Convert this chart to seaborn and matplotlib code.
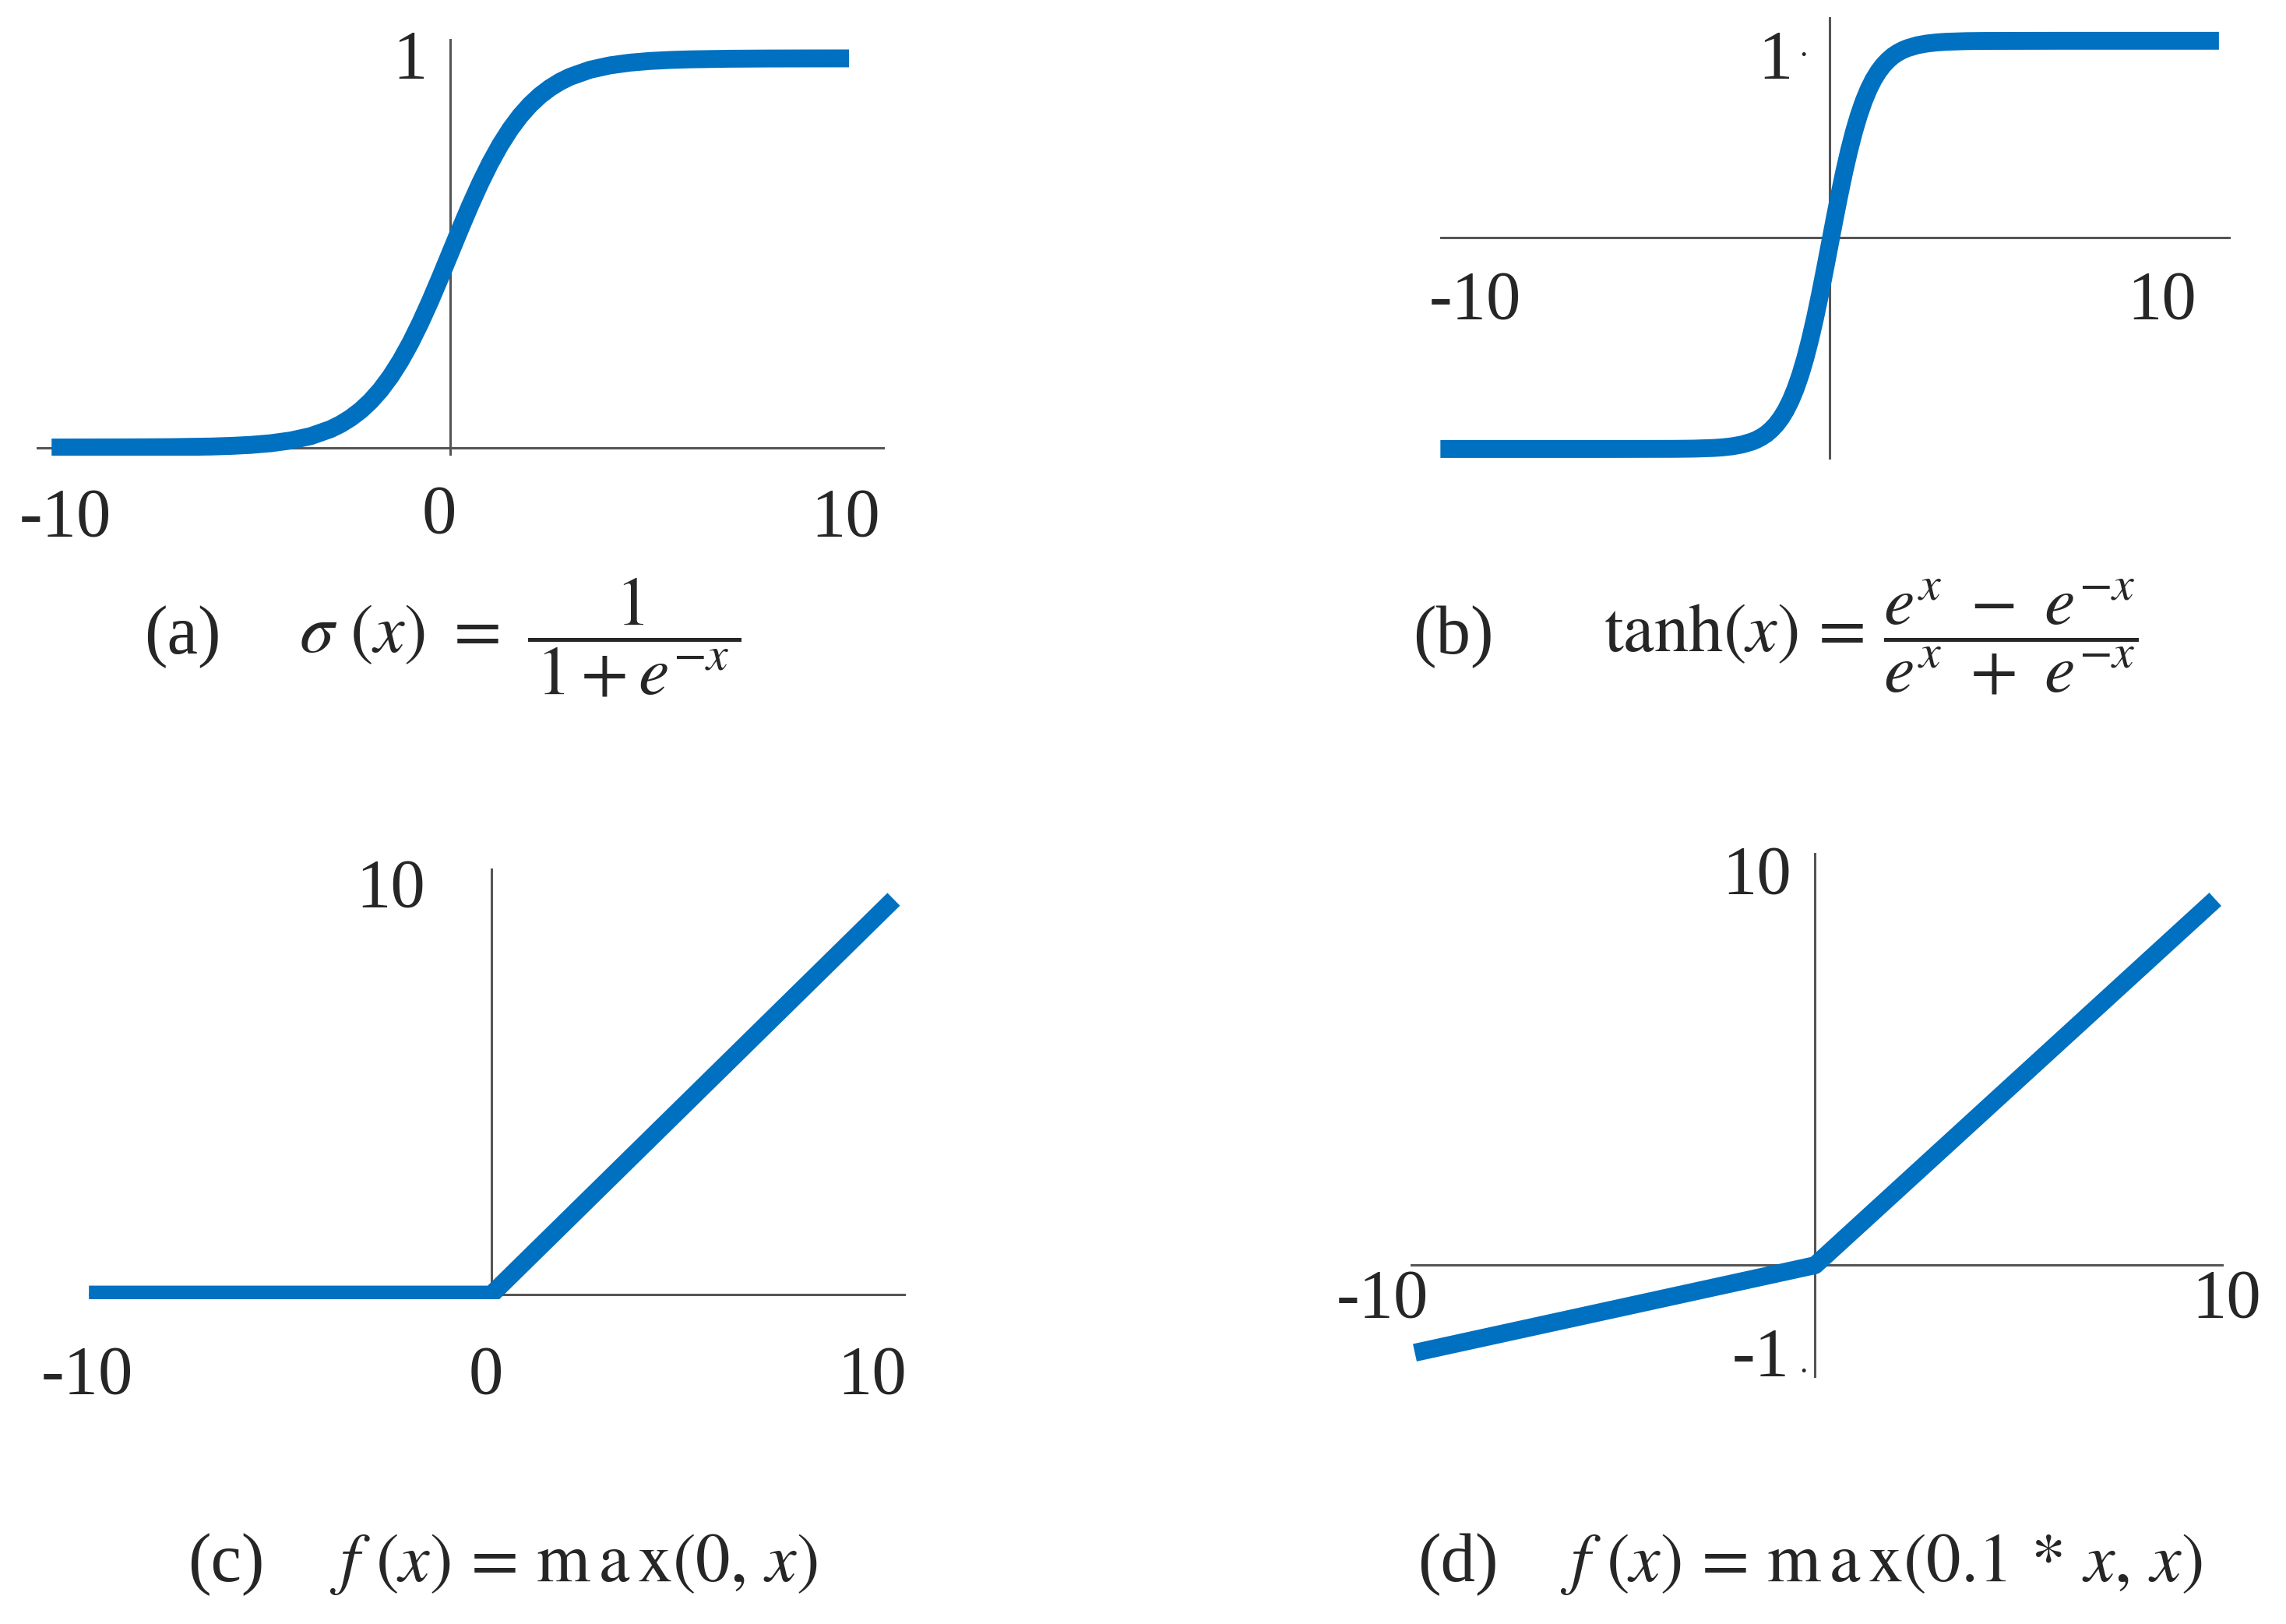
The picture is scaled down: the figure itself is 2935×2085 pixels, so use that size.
import numpy as np
import pandas as pd
import matplotlib
matplotlib.use("Agg")
import matplotlib.pyplot as plt
import seaborn as sns

# ---------------- data ----------------
sig_x = [-10, -9, -8, -7, -6, -5.5, -5, -4.5, -4, -3.5, -3, -2.75, -2.5, -2.25, -2, -1.75,
         -1.5, -1.25, -1, -0.75, -0.5, -0.25, 0, 0.25, 0.5, 0.75, 1, 1.25, 1.5, 1.75, 2,
         2.25, 2.5, 2.75, 3, 3.5, 4, 4.5, 5, 5.5, 6, 7, 8, 9, 10]
sig_y = [0.0, 0.0001, 0.0003, 0.0009, 0.0025, 0.0041, 0.0067, 0.011, 0.018, 0.0293, 0.0474,
         0.060, 0.0759, 0.0953, 0.1192, 0.148, 0.1824, 0.2227, 0.2689, 0.3208, 0.3775,
         0.4378, 0.50, 0.5622, 0.6225, 0.6792, 0.7311, 0.7773, 0.8176, 0.852, 0.8808,
         0.9047, 0.9241, 0.94, 0.9526, 0.9707, 0.982, 0.989, 0.9933, 0.9959, 0.9975,
         0.9991, 0.9997, 0.9999, 1.0]

tanh_x = [-10, -6, -4, -3.5, -3, -2.75, -2.5, -2.25, -2, -1.875, -1.75, -1.625, -1.5,
          -1.375, -1.25, -1.125, -1, -0.875, -0.75, -0.625, -0.5, -0.375, -0.25, -0.125, 0,
          0.125, 0.25, 0.375, 0.5, 0.625, 0.75, 0.875, 1, 1.125, 1.25, 1.375, 1.5, 1.625,
          1.75, 1.875, 2, 2.25, 2.5, 2.75, 3, 3.5, 4, 6, 10]
tanh_y = [-1.0, -1.0, -0.9993, -0.9982, -0.9951, -0.9919, -0.9866, -0.978, -0.964, -0.9541,
          -0.9414, -0.9257, -0.9051, -0.8799, -0.8483, -0.8094, -0.7616, -0.7039, -0.6351,
          -0.5546, -0.4621, -0.3584, -0.2449, -0.1244, 0.0, 0.1244, 0.2449, 0.3584, 0.4621,
          0.5546, 0.6351, 0.7039, 0.7616, 0.8094, 0.8483, 0.8799, 0.9051, 0.9257, 0.9414,
          0.9541, 0.964, 0.978, 0.9866, 0.9919, 0.9951, 0.9982, 0.9993, 1.0, 1.0]

relu_x = [-10, 0, 10]
relu_y = [0, 0, 10]

leaky_x = [-10, 0, 10]
leaky_y = [-1, 0, 10]

# tick labels per panel
ticks_a = ["1", "-10", "0", "10"]
ticks_b = ["1", "-10", "10"]
ticks_c = ["10", "-10", "0", "10"]
ticks_d = ["10", "-10", "-1", "10"]

panel_tags = ["(a)", "(b)", "(c)", "(d)"]
formulas = [r"$\sigma\ (x)\ =\ \dfrac{1}{\,1 + e^{-x}\,}$",
            r"$\mathrm{tanh}(x)\,=\,\dfrac{e^{x}\ -\ e^{-x}}{e^{x}\ +\ e^{-x}}$",
            r"$f\ (x)\,=\,\mathrm{m\,a\,x}(0,\,x)$",
            r"$f\ (x)\,=\,\mathrm{m\,a\,x}(0.1\,*\,x,\,x)$"]

# ---------------- style ----------------
sns.set_theme(style="white")
plt.rcParams["font.family"] = ["Liberation Serif", "DejaVu Serif"]
plt.rcParams["mathtext.fontset"] = "stix"

W, H = 1568.0, 1114.0          # layout measured in the shrunk reference
BLUE = "#0070C0"
AXC = "#555555"
LW = 16.5
TICK_FS = 64
FORM_FS = 64

fig = plt.figure(figsize=(29.35, 20.85), dpi=100)
fig.patch.set_facecolor("white")


def make_ax(l, t, r, b):
    ax = fig.add_axes([l / W, 1 - b / H, (r - l) / W, (b - t) / H])
    ax.set_axis_off()
    return ax


def ftext(x, y, s, fs=TICK_FS, **kw):
    fig.text(x / W, 1 - y / H, s, fontsize=fs, ha="center", va="center", **kw)


def draw_curve(ax, xs, ys):
    df = pd.DataFrame({"x": xs, "y": ys})
    sns.lineplot(data=df, x="x", y="y", ax=ax, color=BLUE, linewidth=LW,
                 estimator=None, sort=False, zorder=3)
    for ln in ax.get_lines():
        ln.set_solid_capstyle("butt")
        ln.set_solid_joinstyle("round")
    ax.set_axis_off()


def draw_axes(ax, y0=0):
    ax.axhline(y0, color=AXC, lw=2.2, zorder=1)
    ax.axvline(0, color=AXC, lw=2.2, zorder=1)


# ---- (a) sigmoid ----
ax_a = make_ax(25, 26.7, 607, 312.3)
draw_curve(ax_a, sig_x, sig_y)
draw_axes(ax_a)
ax_a.set_xlim(-10.38, 10.9)
ax_a.set_ylim(-0.02, 1.05)
for s, (x, y) in zip(ticks_a, [(281, 42), (45, 356), (301, 354), (580, 356)]):
    ftext(x, y, s)

# ---- (b) tanh ----
ax_b = make_ax(988, 12, 1530, 315)
draw_curve(ax_b, tanh_x, tanh_y)
draw_axes(ax_b, y0=0.036)
ax_b.set_xlim(-10.0, 10.3)
ax_b.set_ylim(-1.05, 1.114)
for s, (x, y) in zip(ticks_b, [(1218, 42), (1012, 207), (1483, 207)]):
    ftext(x, y, s)
ftext(1237, 33, ".", fs=30)

# ---- (c) ReLU ----
ax_c = make_ax(61, 596, 621.3, 891)
draw_curve(ax_c, relu_x, relu_y)
draw_axes(ax_c)
ax_c.set_xlim(-10.0, 10.3)
ax_c.set_ylim(-0.11, 10.77)
for s, (x, y) in zip(ticks_c, [(268, 610), (60, 944), (333, 944), (598, 944)]):
    ftext(x, y, s)

# ---- (d) Leaky ReLU (negative side drawn stretched, as in the figure) ----
NEG = 2.39


def fwd(v):
    v = np.asarray(v, dtype=float)
    return np.where(v < 0, v * NEG, v)


def inv(v):
    v = np.asarray(v, dtype=float)
    return np.where(v < 0, v / NEG, v)


ax_d = make_ax(967.7, 585, 1525, 945)
ax_d.set_yscale("function", functions=(fwd, inv))
draw_curve(ax_d, leaky_x, leaky_y)
draw_axes(ax_d)
ax_d.set_xlim(-10.1, 10.2)
ax_d.set_ylim(-1.285, 11.27)
for s, (x, y) in zip(ticks_d, [(1205, 601), (948, 892), (1208, 932), (1527, 892)]):
    ftext(x, y, s)
ftext(1237, 936, ".", fs=30)

# ---- captions ----
ftext(125, 437, panel_tags[0], fs=FORM_FS)
fig.text(205 / W, 1 - 437 / H, formulas[0], fontsize=FORM_FS, ha="left", va="center")
ftext(997, 437, panel_tags[1], fs=FORM_FS)
fig.text(1100 / W, 1 - 437 / H, formulas[1], fontsize=FORM_FS, ha="left", va="center")
ftext(155, 1073, panel_tags[2], fs=FORM_FS)
fig.text(226 / W, 1 - 1073 / H, formulas[2], fontsize=FORM_FS, ha="left", va="center")
ftext(1000, 1073, panel_tags[3], fs=FORM_FS)
fig.text(1070 / W, 1 - 1073 / H, formulas[3], fontsize=FORM_FS, ha="left", va="center")

fig.savefig("out.png", dpi=100, facecolor="white")
